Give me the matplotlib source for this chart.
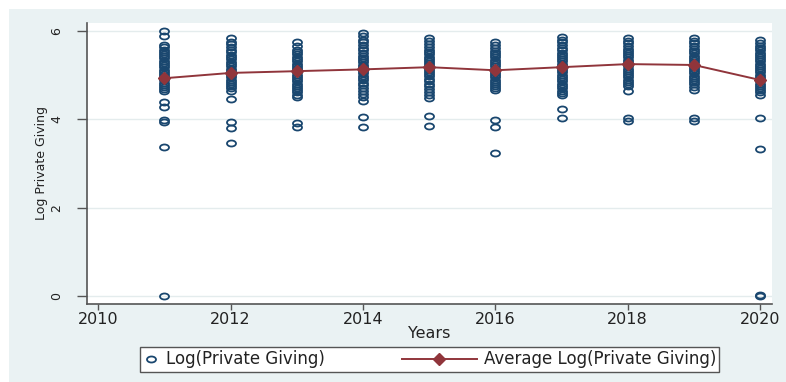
import matplotlib
matplotlib.use("Agg")
import matplotlib.pyplot as plt
from matplotlib.patches import Rectangle
from matplotlib.path import Path
from matplotlib.transforms import Affine2D
from matplotlib.legend_handler import HandlerLine2D

# values
years = [2011, 2012, 2013, 2014, 2015, 2016, 2017, 2018, 2019, 2020]

giving_2011 = [6.00, 5.88, 5.68, 5.63, 5.58, 5.52, 5.47, 5.43, 5.38, 5.33, 5.28, 5.22,
               5.18, 5.12, 5.07, 5.02, 4.97, 4.93, 4.88, 4.83, 4.78, 4.73, 4.68, 4.63,
               4.39, 4.27, 3.98, 3.95, 3.37, 0.00]
giving_2012 = [5.84, 5.76, 5.70, 5.64, 5.58, 5.52, 5.46, 5.41, 5.36, 5.30, 5.25, 5.20,
               5.15, 5.10, 5.05, 5.00, 4.95, 4.90, 4.85, 4.80, 4.75, 4.70, 4.64, 4.46,
               3.94, 3.80, 3.46]
giving_2013 = [5.75, 5.66, 5.58, 5.52, 5.47, 5.42, 5.37, 5.31, 5.26, 5.21, 5.16, 5.11,
               5.06, 5.01, 4.96, 4.91, 4.86, 4.81, 4.76, 4.71, 4.66, 4.61, 4.56, 4.50,
               3.91, 3.82]
giving_2014 = [5.95, 5.88, 5.80, 5.74, 5.68, 5.62, 5.56, 5.50, 5.44, 5.39, 5.34, 5.29,
               5.24, 5.19, 5.14, 5.09, 5.04, 4.99, 4.94, 4.88, 4.83, 4.77, 4.71, 4.65,
               4.58, 4.50, 4.42, 4.05, 3.82]
giving_2015 = [5.84, 5.77, 5.70, 5.64, 5.58, 5.52, 5.47, 5.42, 5.37, 5.32, 5.27, 5.22,
               5.17, 5.12, 5.07, 5.02, 4.97, 4.92, 4.87, 4.81, 4.75, 4.69, 4.62, 4.55,
               4.48, 4.07, 3.85]
giving_2016 = [5.75, 5.68, 5.61, 5.55, 5.50, 5.45, 5.40, 5.35, 5.30, 5.25, 5.20, 5.15,
               5.10, 5.05, 5.00, 4.95, 4.90, 4.85, 4.80, 4.75, 4.70, 4.66, 3.98, 3.83,
               3.23]
giving_2017 = [5.86, 5.80, 5.74, 5.68, 5.62, 5.56, 5.51, 5.46, 5.41, 5.36, 5.31, 5.26,
               5.21, 5.16, 5.11, 5.06, 5.01, 4.96, 4.91, 4.86, 4.81, 4.76, 4.71, 4.65,
               4.60, 4.55, 4.23, 4.03]
giving_2018 = [5.84, 5.78, 5.72, 5.66, 5.60, 5.55, 5.50, 5.45, 5.40, 5.35, 5.30, 5.25,
               5.20, 5.15, 5.10, 5.05, 5.00, 4.95, 4.90, 4.85, 4.80, 4.75, 4.64, 4.03,
               3.97]
giving_2019 = [5.84, 5.78, 5.72, 5.66, 5.60, 5.54, 5.49, 5.44, 5.39, 5.34, 5.29, 5.24,
               5.19, 5.14, 5.09, 5.04, 4.99, 4.94, 4.89, 4.84, 4.79, 4.73, 4.66, 4.03,
               3.97]
giving_2020 = [5.79, 5.73, 5.67, 5.61, 5.56, 5.51, 5.46, 5.41, 5.36, 5.31, 5.26, 5.21,
               5.16, 5.11, 5.06, 5.01, 4.96, 4.91, 4.86, 4.81, 4.76, 4.71, 4.66, 4.61,
               4.55, 4.03, 3.33, 0.02, 0.00]

avg_giving = [4.93, 5.05, 5.09, 5.13, 5.18, 5.11, 5.18, 5.25, 5.23, 4.89]

x_ticks = [2010, 2012, 2014, 2016, 2018, 2020]
y_ticks = [0, 2, 4, 6]

giving_by_year = [giving_2011, giving_2012, giving_2013, giving_2014, giving_2015,
                  giving_2016, giving_2017, giving_2018, giving_2019, giving_2020]

navy = "#1a476f"
maroon = "#90353b"
region = "#eaf2f3"
plt.rcParams["font.family"] = "DejaVu Sans"

# the source graph is stretched sideways, so the hollow circles come out as wide ovals
oval = Affine2D().scale(1.5, 1.0).transform_path(Path.unit_circle())


class WideLine(HandlerLine2D):
    # line handle that reaches further left than the legend handle box
    def create_artists(self, legend, orig_handle, xdescent, ydescent, width,
                       height, fontsize, trans):
        extra = 3.5 * fontsize
        return super().create_artists(legend, orig_handle, xdescent + extra, ydescent,
                                      width + extra, height, fontsize, trans)


fig = plt.figure(figsize=(7.86, 3.82), dpi=100, facecolor="white")
fig.patches.append(Rectangle((9 / 786, 0), 1, 1 - 9 / 382, transform=fig.transFigure,
                             facecolor=region, edgecolor="none", zorder=-5))

ax = fig.add_axes([87 / 786, 1 - 304 / 382, (772 - 87) / 786, (304 - 23) / 382])
ax.set_zorder(1)
ax.set_facecolor("white")

for yr, vals in zip(years, giving_by_year):
    ax.plot([yr] * len(vals), vals, ls="none", marker=oval, mfc="none", mec=navy,
            ms=6.5, mew=1.3, zorder=3)
ax.plot(years, avg_giving, "-D", color=maroon, lw=1.4, ms=6.5, zorder=4)

ax.set_xlim(2009.83, 2020.18)
ax.set_ylim(-0.18, 6.18)
ax.set_xticks(x_ticks)
ax.set_yticks(y_ticks)
ax.set_yticklabels([str(v) for v in y_ticks], rotation=90, va="center", fontsize=9)
ax.tick_params(axis="x", length=4, width=1, color="#555555", labelsize=11.5,
               pad=2, labelcolor="#222222")
ax.tick_params(axis="y", length=7, width=1, color="#555555", pad=10,
               labelcolor="#222222")
ax.grid(axis="y", color="#e4eced", lw=1)
ax.set_axisbelow(True)

for side in ["top", "right"]:
    ax.spines[side].set_visible(False)
for side in ["left", "bottom"]:
    ax.spines[side].set_color("#555555")
    ax.spines[side].set_linewidth(1.2)

ax.set_xlabel("Years", fontsize=11.5, color="#222222", labelpad=-1)
ax.set_ylabel("Log Private Giving", fontsize=9, color="#222222", labelpad=2)

h_dots = plt.Line2D([], [], ls="none", marker=oval, mfc="none", mec=navy, ms=6.5,
                    mew=1.3)
h_avg = plt.Line2D([], [], color=maroon, lw=1.4, marker="D", ms=6.5)
leg = fig.legend([h_dots, h_avg],
                 ["Log(Private Giving)", "Average Log(Private Giving)"],
                 loc="center", bbox_to_anchor=(429.5 / 786, 1 - 359.5 / 382),
                 ncol=2, fontsize=12, handlelength=1.0, handletextpad=0.4,
                 columnspacing=8.1, borderpad=0.2, fancybox=False, framealpha=1,
                 edgecolor="#555555", handler_map={h_avg: WideLine()})
leg.set_zorder(5)
leg.get_frame().set_linewidth(1.0)
for t in leg.get_texts():
    t.set_color("#222222")

fig.savefig("out.png", dpi=100, facecolor=fig.get_facecolor())
